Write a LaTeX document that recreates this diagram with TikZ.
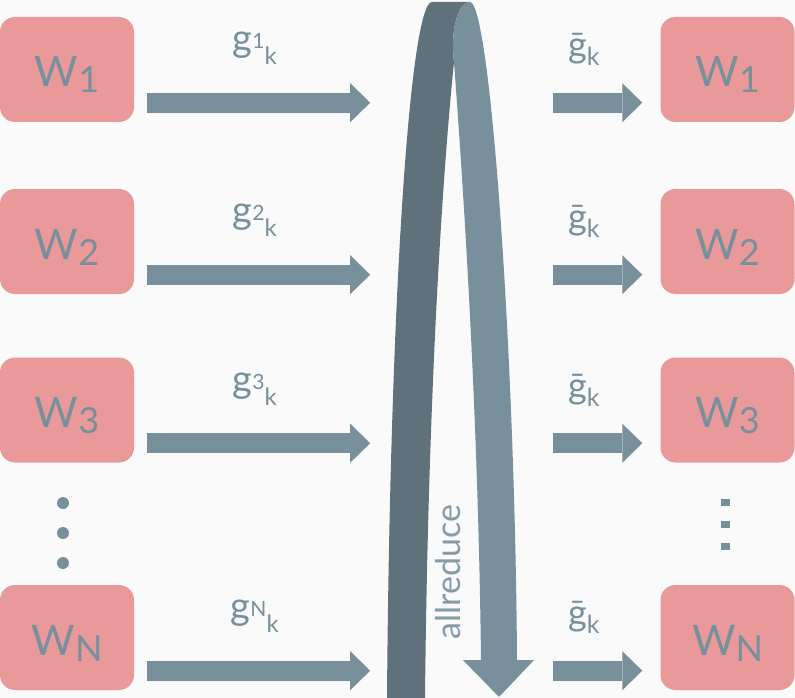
\documentclass[tikz,border=0pt]{standalone}
\usepackage{fontspec}
\setmainfont{Lato}
\usetikzlibrary{arrows.meta,calc}

\definecolor{boxpink}{HTML}{E99999}
\definecolor{slate}{HTML}{78909C}
\definecolor{slatedark}{HTML}{5F717B}
\definecolor{paper}{HTML}{FAFAFA}

\tikzset{
  worker/.style={fill=boxpink, rounded corners=15pt, minimum width=134pt, minimum height=105pt,
    inner sep=0pt, text=slate, text height=41pt, text depth=6pt, font=\fontsize{42}{42}\selectfont},
  fatarrow/.style={draw=slate, line width=20pt, -{Triangle[width=39pt,length=20pt,line width=0pt]}},
  glabel/.style={text=slate, inner sep=0pt},
}

\newcommand\wname[1]{W\raisebox{-6pt}{\fontsize{36}{36}\selectfont #1}}
\newcommand\grad[1]{{\fontsize{38}{38}\selectfont g}\raisebox{3pt}{\fontsize{21}{21}\selectfont #1}\raisebox{-13pt}{\fontsize{24}{24}\selectfont k}}
\newcommand\gavg{{\fontsize{36}{36}\selectfont \=g}\raisebox{-8pt}{\fontsize{25}{25}\selectfont k}}

\begin{document}
\begin{tikzpicture}[x=1pt,y=-1pt]
\useasboundingbox (0,0) rectangle (795,698);
\fill[paper] (0,0) rectangle (795,698);

% workers before the reduction
\node[worker] (wl1) at (67,69.5) {\wname{1}};
\node[worker] (wl2) at (67,241.5) {\wname{2}};
\node[worker] (wl3) at (67,410) {\wname{3}};
\node[worker] (wlN) at (67,637.5) {\wname{N}};

% workers after the reduction
\node[worker] (wr1) at (727.5,69.5) {\wname{1}};
\node[worker] (wr2) at (727.5,241.5) {\wname{2}};
\node[worker] (wr3) at (727.5,410) {\wname{3}};
\node[worker] (wrN) at (727.5,637.5) {\wname{N}};

% local gradients
\draw[fatarrow] ($(wl1.south east)+(13pt,19.5pt)$) -- ++(223,0) node[glabel, midway, above=28pt, xshift=-4pt] {\grad{1}};
\draw[fatarrow] ($(wl2.south east)+(13pt,19.5pt)$) -- ++(223,0) node[glabel, midway, above=28pt, xshift=-4pt] {\grad{2}};
\draw[fatarrow] ($(wl3.south east)+(13pt,19.5pt)$) -- ++(223,0) node[glabel, midway, above=28pt, xshift=-4pt] {\grad{3}};
\draw[fatarrow] ($(wlN.south east)+(13pt,19.5pt)$) -- ++(223,0) node[glabel, midway, above=28pt, xshift=-4pt] {\grad{N}};

% averaged gradient
\draw[fatarrow] ($(wr1.south west)+(-107pt,19.5pt)$) -- ++(89,0) node[glabel, midway, above=27pt, xshift=-14pt] {\gavg};
\draw[fatarrow] ($(wr2.south west)+(-107pt,19.5pt)$) -- ++(89,0) node[glabel, midway, above=27pt, xshift=-14pt] {\gavg};
\draw[fatarrow] ($(wr3.south west)+(-107pt,19.5pt)$) -- ++(89,0) node[glabel, midway, above=27pt, xshift=-14pt] {\gavg};
\draw[fatarrow] ($(wrN.south west)+(-107pt,19.5pt)$) -- ++(89,0) node[glabel, midway, above=27pt, xshift=-14pt] {\gavg};

% the elided workers
\fill[slate] (63,503) circle (6pt);
\fill[slate] (63,533) circle (6pt);
\fill[slate] (63,563) circle (6pt);
\fill[slate] (720.5,498.5) rectangle ++(9,7);
\fill[slate] (720.5,520.5) rectangle ++(9,7);
\fill[slate] (720.5,542.5) rectangle ++(9,7);

% allreduce ribbon, back face then front face
\fill[slatedark] (387,698) .. controls (390,300) and (410,2) .. (432,2) -- (470,2)
  .. controls (458,2) and (450,30) .. (454,62)
  .. controls (442,180) and (428,400) .. (425,698) -- cycle;
\fill[slate] (470,2) .. controls (490,2) and (515,350) .. (517,660) -- (534,660) -- (499,697) -- (463,660) -- (481,660)
  .. controls (478,400) and (462,170) .. (454,62)
  .. controls (450,30) and (458,2) .. (470,2) -- cycle;
\node[rotate=90, text=slate!90!white, inner sep=0pt, font=\fontsize{34}{34}\selectfont] (reduce) at (448,572) {allreduce};
\end{tikzpicture}
\end{document}
